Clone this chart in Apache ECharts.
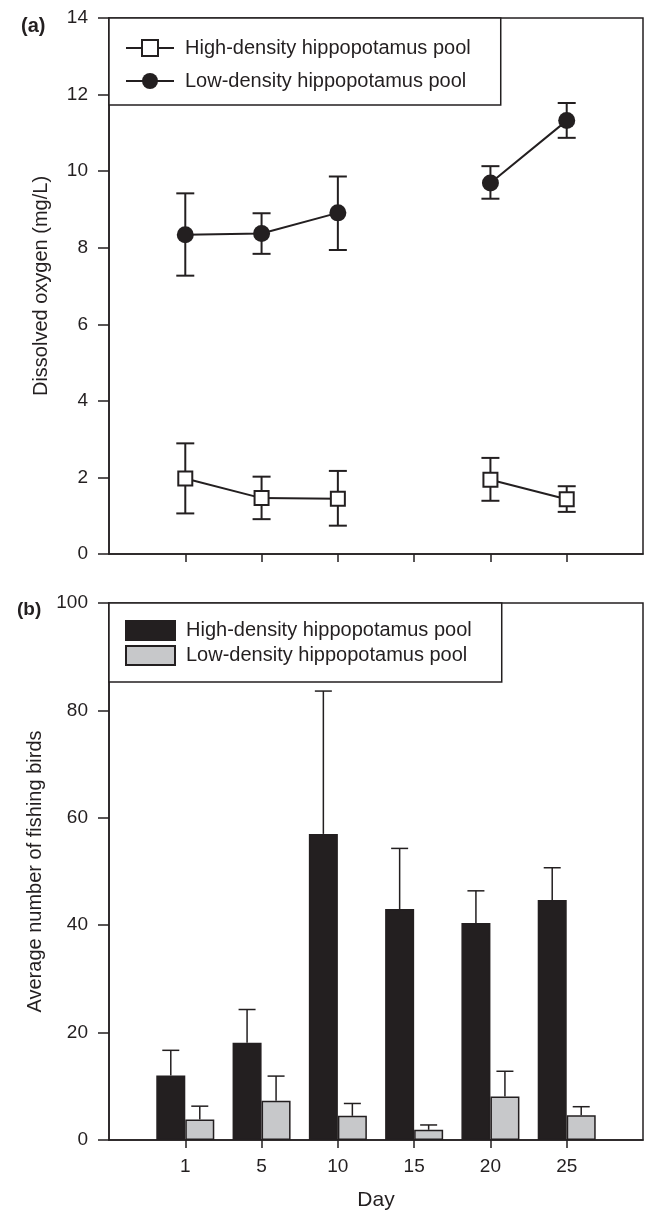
<!DOCTYPE html>
<html>
<head>
<meta charset="utf-8">
<script src="https://cdn.jsdelivr.net/npm/echarts@6/dist/echarts.min.js"></script>
<style>
html,body{margin:0;padding:0;background:#fff;}
#chart{width:648px;height:1212px;}
</style>
</head>
<body>
<div id="chart"></div>
<script>
// ---- data ----
const days = ['1', '5', '10', '15', '20', '25'];
const seriesNames = ['High-density hippopotamus pool', 'Low-density hippopotamus pool'];
// (a) dissolved oxygen (mg/L): mean, upper and lower error limits (null = no sample)
const oxyHighMean  = [1.97, 1.46, 1.44, null, 1.94, 1.43];
const oxyHighUpper = [2.89, 2.02, 2.17, null, 2.51, 1.77];
const oxyHighLower = [1.06, 0.91, 0.74, null, 1.39, 1.10];
const oxyLowMean   = [8.34, 8.37, 8.91, null, 9.69, 11.32];
const oxyLowUpper  = [9.42, 8.90, 9.86, null, 10.13, 11.78];
const oxyLowLower  = [7.27, 7.84, 7.94, null, 9.28, 10.87];
// (b) average number of fishing birds: mean and upper error limit
const birdsHighMean  = [12.0, 18.1, 57.0, 43.0, 40.4, 44.7];
const birdsHighUpper = [16.7, 24.3, 83.6, 54.3, 46.4, 50.7];
const birdsLowMean   = [3.8, 7.3, 4.5, 1.9, 8.1, 4.6];
const birdsLowUpper  = [6.3, 11.9, 6.8, 2.8, 12.8, 6.2];
const oxyTicks = {min: 0, max: 14, interval: 2};
const birdTicks = {min: 0, max: 100, interval: 20};

// ---- helpers ----
const INK = '#231f20';
const FONT = '"Liberation Sans", Arial, Helvetica, sans-serif';
const BAR_W = 29;
const axisCats = [''].concat(days, ['']);
const pad = arr => [null].concat(arr, [null]);
const errData = (lower, upper) => {
  const out = [];
  for (let i = 0; i < days.length; i++) {
    if (upper[i] != null) out.push([i + 1, lower[i], upper[i]]);
  }
  return out;
};
function errRenderer(capW, lw, offset) {
  return function (params, api) {
    const x = api.value(0);
    const lo = api.coord([x, api.value(1)]);
    const hi = api.coord([x, api.value(2)]);
    const cx = lo[0] + offset;
    const children = [
      {type: 'line', shape: {x1: cx, y1: lo[1], x2: cx, y2: hi[1]}, style: {stroke: INK, lineWidth: lw}},
      {type: 'line', shape: {x1: cx - capW / 2, y1: hi[1], x2: cx + capW / 2, y2: hi[1]}, style: {stroke: INK, lineWidth: lw}}
    ];
    if (offset === 0) {
      children.push({type: 'line', shape: {x1: cx - capW / 2, y1: lo[1], x2: cx + capW / 2, y2: lo[1]}, style: {stroke: INK, lineWidth: lw}});
    }
    return {type: 'group', children: children};
  };
}

const chart = echarts.init(document.getElementById('chart'), null, {renderer: 'canvas'});

const xAxisBase = {
  type: 'category',
  data: axisCats,
  boundaryGap: false,
  axisLine: {show: true, lineStyle: {color: INK, width: 1.5}},
  axisTick: {show: true, inside: false, length: 8, lineStyle: {color: INK, width: 1.5},
             interval: (idx, val) => val !== ''},
  splitLine: {show: false}
};
const yAxisBase = {
  type: 'value',
  axisLine: {show: true, lineStyle: {color: INK, width: 1.5}},
  axisTick: {show: true, inside: false, length: 11, lineStyle: {color: INK, width: 1.5}},
  splitLine: {show: false},
  axisLabel: {color: INK, fontFamily: FONT, fontSize: 19, margin: 21},
  nameLocation: 'middle',
  nameRotate: 90,
  nameTextStyle: {color: INK, fontFamily: FONT, fontSize: 20}
};

const option = {
  backgroundColor: '#fff',
  animation: false,
  title: [
    {text: '(a)', left: 16, top: 11, textStyle: {fontFamily: FONT, fontWeight: 'bold', fontSize: 20, color: INK}},
    {text: '(b)', left: 12, top: 595, textStyle: {fontFamily: FONT, fontWeight: 'bold', fontSize: 19, color: INK}}
  ],
  grid: [
    {left: 109, right: 5, top: 18, height: 536, show: true, borderColor: INK, borderWidth: 1.5, containLabel: false},
    {left: 109, right: 5, top: 603, height: 537, show: true, borderColor: INK, borderWidth: 1.5, containLabel: false}
  ],
  legend: [
    {
      data: [seriesNames[0], seriesNames[1]],
      orient: 'vertical',
      left: 109, top: 18,
      backgroundColor: '#fff',
      borderColor: INK, borderWidth: 1.5, borderRadius: 0,
      padding: [20, 30, 14, 16],
      itemWidth: 48, itemHeight: 20, itemGap: 13,
      textStyle: {color: INK, fontFamily: FONT, fontSize: 20, padding: [0, 0, 0, 6]},
      selectedMode: false
    },
    {
      data: [seriesNames[0] + '\u200b', seriesNames[1] + '\u200b'],
      orient: 'vertical',
      left: 109, top: 603,
      backgroundColor: '#fff',
      borderColor: INK, borderWidth: 1.5, borderRadius: 0,
      padding: [17, 30, 16, 16],
      itemWidth: 49, itemHeight: 19, itemGap: 4,
      icon: 'rect',
      textStyle: {color: INK, fontFamily: FONT, fontSize: 20, padding: [0, 0, 0, 6]},
      selectedMode: false
    }
  ],
  xAxis: [
    Object.assign({}, xAxisBase, {gridIndex: 0, axisLabel: {show: false}}),
    Object.assign({}, xAxisBase, {gridIndex: 1,
      axisLabel: {show: true, color: INK, fontFamily: FONT, fontSize: 19, margin: 17, interval: 0},
      name: 'Day', nameLocation: 'middle', nameGap: 50,
      nameTextStyle: {color: INK, fontFamily: FONT, fontSize: 21}})
  ],
  yAxis: [
    Object.assign({}, yAxisBase, oxyTicks, {gridIndex: 0, name: 'Dissolved oxygen (mg/L)', nameGap: 58}),
    Object.assign({}, yAxisBase, birdTicks, {gridIndex: 1, name: 'Average number of fishing birds', nameGap: 58})
  ],
  series: [
    // (a) error bars
    {type: 'custom', xAxisIndex: 0, yAxisIndex: 0, z: 1, silent: true,
     data: errData(oxyHighLower, oxyHighUpper), renderItem: errRenderer(18, 2, 0)},
    {type: 'custom', xAxisIndex: 0, yAxisIndex: 0, z: 1, silent: true,
     data: errData(oxyLowLower, oxyLowUpper), renderItem: errRenderer(18, 2, 0)},
    // (a) lines
    {name: seriesNames[0], type: 'line', xAxisIndex: 0, yAxisIndex: 0, z: 3,
     data: pad(oxyHighMean), connectNulls: false,
     symbol: 'rect', symbolSize: 14, showAllSymbol: true,
     lineStyle: {color: INK, width: 2},
     itemStyle: {color: '#ffffff', borderColor: INK, borderWidth: 2}},
    {name: seriesNames[1], type: 'line', xAxisIndex: 0, yAxisIndex: 0, z: 3,
     data: pad(oxyLowMean), connectNulls: false,
     symbol: 'circle', symbolSize: 17, showAllSymbol: true,
     lineStyle: {color: INK, width: 2},
     itemStyle: {color: INK, borderColor: INK, borderWidth: 0}},
    // (b) bars
    {name: seriesNames[0] + '\u200b', type: 'bar', xAxisIndex: 1, yAxisIndex: 1, z: 2,
     data: pad(birdsHighMean), barWidth: BAR_W, barGap: '0%',
     itemStyle: {color: INK, borderColor: INK, borderWidth: 1.5}},
    {name: seriesNames[1] + '\u200b', type: 'bar', xAxisIndex: 1, yAxisIndex: 1, z: 2,
     data: pad(birdsLowMean), barWidth: BAR_W, barGap: '0%',
     itemStyle: {color: '#c7c8ca', borderColor: INK, borderWidth: 1.5}},
    // (b) upper error bars
    {type: 'custom', xAxisIndex: 1, yAxisIndex: 1, z: 1, silent: true,
     data: errData(birdsHighMean, birdsHighUpper), renderItem: errRenderer(17, 1.5, -BAR_W / 2)},
    {type: 'custom', xAxisIndex: 1, yAxisIndex: 1, z: 1, silent: true,
     data: errData(birdsLowMean, birdsLowUpper), renderItem: errRenderer(17, 1.5, BAR_W / 2)}
  ]
};
chart.setOption(option);
</script>
</body>
</html>
